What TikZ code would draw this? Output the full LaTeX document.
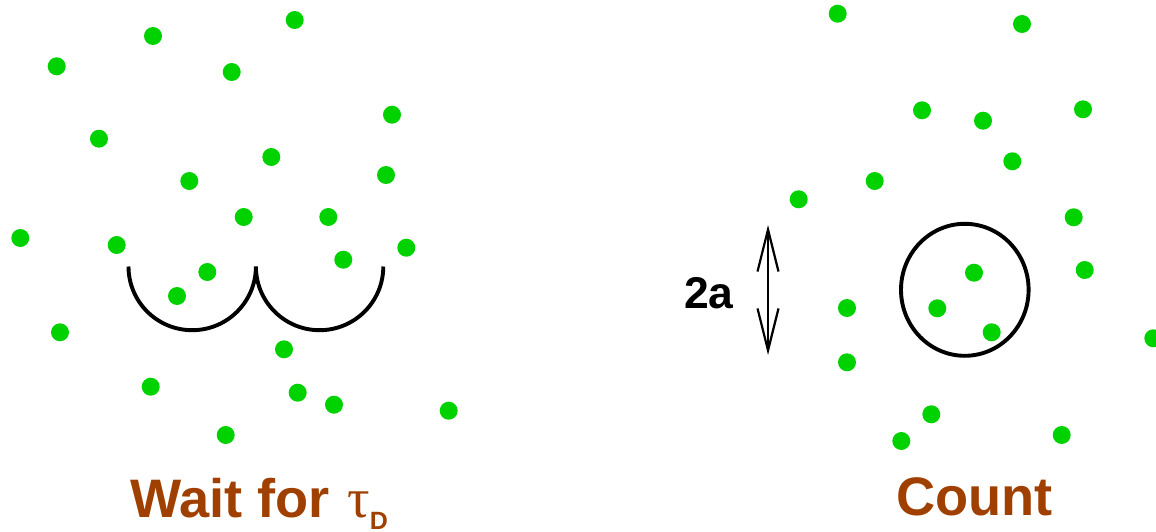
\documentclass[tikz,border=0pt]{standalone}
\usepackage{fontspec}
\setmainfont{Liberation Sans}
\newfontfamily\taufont{Liberation Serif}
\usetikzlibrary{arrows.meta,shapes.geometric}
\definecolor{dotgreen}{RGB}{0,210,0}
\definecolor{labelbrown}{RGB}{160,64,0}
\tikzset{
  dot/.style={circle, fill=dotgreen, draw=none, minimum size=18pt, inner sep=0pt},
  curve/.style={line width=3.9pt, black},
  biglabel/.style={inner sep=0pt, text=labelbrown, font=\fontsize{54.2}{60}\selectfont\bfseries},
  dimlabel/.style={inner sep=0pt, text=black, font=\fontsize{44.5}{50}\selectfont\bfseries},
  dimarrow/.style={line width=2.2pt, {Straight Barb[length=42pt,width=21pt,line width=2.2pt]}-{Straight Barb[length=42pt,width=21pt,line width=2.2pt]}}
}
\begin{document}
\begin{tikzpicture}[x=1pt,y=-1pt]
\useasboundingbox (0,0) rectangle (1156,532);
% left dots
\foreach \i/\p in {1/{(294.7,20)},2/{(153,36)},3/{(56.7,66.3)},4/{(231.7,72)},5/{(392,114.7)},6/{(99,138.7)},7/{(271.3,157)},8/{(189.3,181)},9/{(386,175)},10/{(243.7,217)},11/{(328.3,217)},12/{(20.3,238)},13/{(116.7,245)},14/{(406.3,247.7)},15/{(343.3,259.7)},16/{(207.3,272)},17/{(177,296)},18/{(60,332.3)},19/{(284,349.3)},20/{(150.7,386.7)},21/{(297.7,392.7)},22/{(334,404.7)},23/{(448.7,410.7)},24/{(225.7,435)}}
  {\node[dot] (L\i) at \p {};}
% right dots
\foreach \i/\p in {1/{(837.7,13.7)},2/{(1022,24)},3/{(922,110.3)},4/{(983,120.7)},5/{(1083,109.3)},6/{(1012.3,161.3)},7/{(874.7,181)},8/{(798.7,199.3)},9/{(1073.7,217.3)},10/{(1084.7,270)},11/{(847,308)},12/{(937.3,308.3)},13/{(974,272.7)},14/{(991.7,332.3)},15/{(1153.3,338.3)},16/{(847,362.3)},17/{(931.3,414.3)},18/{(901.3,441)},19/{(1061.7,435)}}
  {\node[dot] (R\i) at \p {};}
% two semicircles
\coordinate (s0) at (128.5,266.5);
\draw[curve] (s0) arc[start angle=180, end angle=360, x radius=63.7, y radius=-63.7]
              arc[start angle=180, end angle=360, x radius=63.7, y radius=-63.7];
% counting circle
\node[draw, curve, ellipse, minimum width=127.6pt, minimum height=132pt, inner sep=0pt] (cnt) at (964.8,289.8) {};
% 2a dimension arrow
\coordinate (ta) at (768,225);
\coordinate (tb) at (768,355);
\draw[dimarrow] (ta) -- (tb);
\node[dimlabel, anchor=base west] (twoa) at (684,308) {2a};
% labels
\node[biglabel, anchor=base west] (wait) at (130,517) {Wait for\hspace{0.32em}{\taufont\mdseries\fontsize{56}{60}\selectfont τ}\raisebox{-12pt}{\fontsize{25}{28}\selectfont D}};
\node[biglabel, anchor=base west] (count) at (896,515) {Count};
\end{tikzpicture}
\end{document}
